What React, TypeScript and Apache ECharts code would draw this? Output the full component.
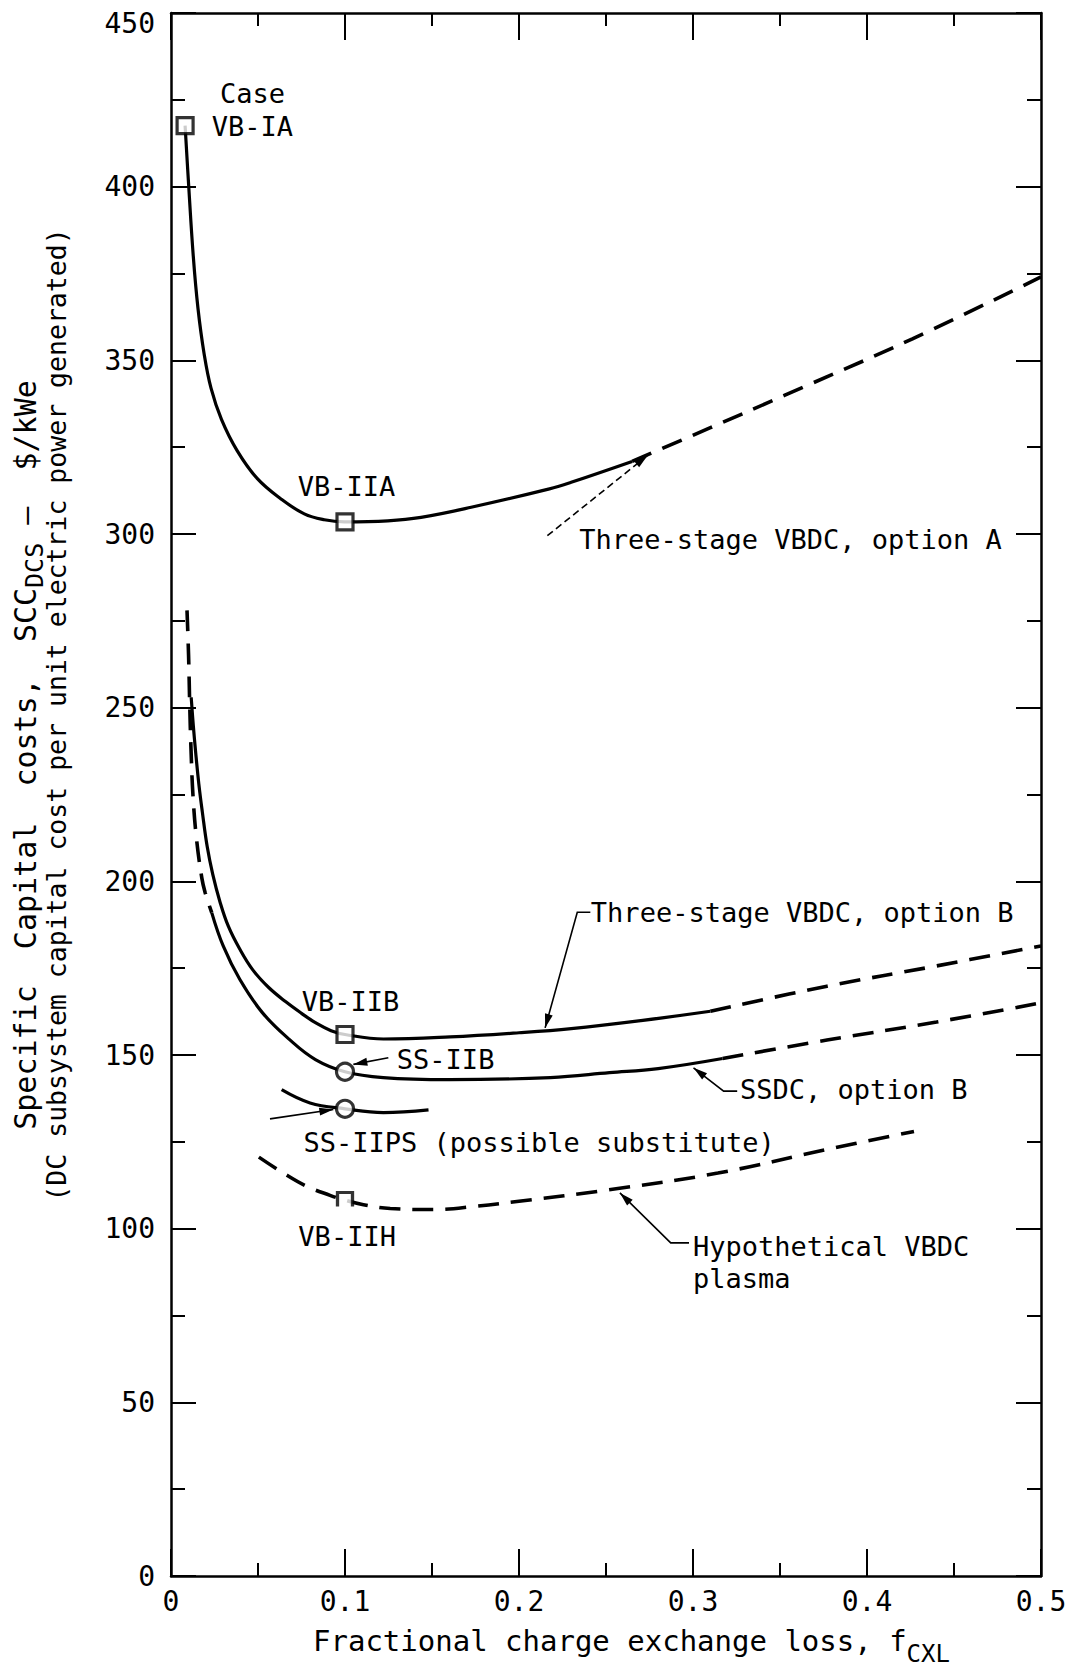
import { useEffect, useRef } from "react";
import * as echarts from "echarts";

type Pt = [number, number];

const FONT = '"DejaVu Sans Mono", "Liberation Mono", monospace';
const INK = "#000";

// x: fractional charge exchange loss f_CXL ; y: specific capital cost, $/kWe

// Three-stage VBDC, option A
const vbdcASolid: Pt[] = [
  [0.0081, 417.6], [0.0102, 400.0], [0.0128, 380.0], [0.0155, 365.0], [0.019, 352.0],
  [0.023, 342.0], [0.029, 333.0], [0.038, 324.0], [0.0495, 316.0], [0.0632, 310.1],
  [0.0766, 305.8], [0.0881, 304.1], [0.0996, 303.5], [0.1246, 303.8], [0.1437, 304.8],
  [0.1725, 307.7], [0.2175, 313.0], [0.23, 314.9], [0.265, 320.9],
];
const vbdcADashed: Pt[] = [
  [0.265, 320.9], [0.31, 330.6], [0.3525, 339.9], [0.4261, 356.2], [0.5, 374.0],
];

// Three-stage VBDC, option B
const vbdcBSolid: Pt[] = [
  [0.0116, 253.0], [0.0128, 245.0], [0.0142, 237.0], [0.016, 228.0], [0.018, 220.0],
  [0.0208, 210.0], [0.024, 202.0], [0.0282, 194.0], [0.033, 187.0], [0.0395, 180.5],
  [0.047, 174.5], [0.056, 169.5], [0.066, 165.3], [0.075, 162.0], [0.084, 159.0],
  [0.092, 157.0], [0.1, 155.9], [0.1221, 154.6], [0.1604, 155.2], [0.2, 156.4],
  [0.23, 157.6], [0.27, 159.9], [0.31, 162.6],
];
const vbdcBDashed: Pt[] = [
  [0.31, 162.6], [0.377, 169.8], [0.4395, 175.6], [0.5, 181.4],
];

// SSDC, option B
const ssdcDashedHigh: Pt[] = [
  [0.0092, 278.0], [0.0101, 265.0], [0.0108, 250.0], [0.0115, 238.0], [0.0126, 225.0],
  [0.0146, 212.5], [0.0177, 201.0], [0.0196, 196.8], [0.0234, 191.0],
];
const ssdcSolid: Pt[] = [
  [0.0234, 191.0], [0.03, 181.4], [0.0395, 171.8], [0.0525, 162.2], [0.068, 154.5],
  [0.083, 148.7], [0.1, 145.2], [0.122, 143.5], [0.16, 142.9], [0.218, 143.5],
  [0.252, 144.9], [0.28, 146.1], [0.317, 149.0],
];
const ssdcDashedLow: Pt[] = [
  [0.317, 149.0], [0.377, 154.3], [0.44, 159.5], [0.5, 165.0],
];

// SS-IIPS (possible substitute)
const ssIIPS: Pt[] = [
  [0.0636, 140.0], [0.0799, 136.2], [0.1, 134.5], [0.1221, 133.4], [0.148, 134.2],
];

// Hypothetical VBDC plasma
const hypothetical: Pt[] = [
  [0.0505, 120.6], [0.0646, 116.0], [0.078, 112.2], [0.0914, 109.6], [0.1, 108.2],
  [0.1106, 106.9], [0.126, 105.8], [0.151, 105.5], [0.176, 106.5], [0.2, 107.9],
  [0.2518, 111.2], [0.3143, 116.0], [0.377, 122.8], [0.427, 128.0],
];

// design cases
const squareCases: Pt[] = [[0.0081, 417.6], [0.1, 303.5], [0.1, 155.9]];
const openSquareCases: Pt[] = [[0.1, 108.4]];
const circleCases: Pt[] = [[0.1, 145.2], [0.1, 134.5]];

// case and curve labels, anchored at the left end of the text in data space
const labelTexts = [
  "Case", "VB-IA", "VB-IIA", "Three-stage VBDC, option A", "Three-stage VBDC, option B",
  "VB-IIB", "SS-IIB", "SS-IIPS (possible substitute)", "VB-IIH", "SSDC, option B",
  "Hypothetical VBDC", "plasma",
];
const labelAnchors: Pt[] = [
  [0.0282, 426.8], [0.0234, 417.2], [0.0728, 313.7], [0.2346, 298.5], [0.2413, 191.1],
  [0.0752, 165.5], [0.1298, 148.7], [0.0761, 124.7], [0.0732, 97.8], [0.327, 140.0],
  [0.3, 94.8], [0.3, 85.6],
];

// leader lines ending with an arrowhead at the last point
const leaders: { pts: Pt[]; dashed?: boolean }[] = [
  { pts: [[0.2163, 299.5], [0.2739, 322.6]], dashed: true },
  { pts: [[0.241, 191.1], [0.2335, 191.1], [0.215, 157.8]] },
  { pts: [[0.1249, 149.2], [0.1048, 147.3]] },
  { pts: [[0.0569, 131.6], [0.0933, 134.3]] },
  { pts: [[0.3254, 139.6], [0.3176, 139.6], [0.3003, 146.3]] },
  { pts: [[0.2977, 95.9], [0.2872, 95.9], [0.258, 110.3]] },
];

function arrowHead(tip: number[], from: number[], len = 14, half = 4) {
  const dx = tip[0] - from[0];
  const dy = tip[1] - from[1];
  const d = Math.hypot(dx, dy) || 1;
  const ux = dx / d;
  const uy = dy / d;
  const bx = tip[0] - ux * len;
  const by = tip[1] - uy * len;
  return [
    [tip[0], tip[1]],
    [bx - uy * half, by + ux * half],
    [bx + uy * half, by - ux * half],
  ];
}

export default function App() {
  const ref = useRef<HTMLDivElement>(null);

  useEffect(() => {
    const el = ref.current;
    if (!el) return;
    const chart = echarts.init(el, null, { renderer: "svg" });

    const solid = (name: string, data: Pt[]) => ({
      name, type: "line", data, showSymbol: false, smooth: 0.4, silent: true, z: 3,
      lineStyle: { color: INK, width: 3.2 },
    });
    const dashed = (name: string, data: Pt[]) => ({
      name, type: "line", data, showSymbol: false, smooth: 0.4, silent: true, z: 3,
      lineStyle: { color: INK, width: 3.6, type: [21, 12] },
    });

    const tickStyle = { color: INK, width: 2 };
    const xAxisBase = {
      type: "value", min: 0, max: 0.5, interval: 0.1,
      axisLine: { show: true, onZero: false, lineStyle: { color: INK, width: 2.5 } },
      axisTick: { show: true, inside: true, length: 27, lineStyle: tickStyle },
      minorTick: { show: true, splitNumber: 2, length: 13, lineStyle: tickStyle },
      splitLine: { show: false }, minorSplitLine: { show: false },
    };
    const yAxisBase = {
      type: "value", min: 0, max: 450, interval: 50,
      axisLine: { show: true, onZero: false, lineStyle: { color: INK, width: 2.5 } },
      axisTick: { show: true, inside: true, length: 25, lineStyle: tickStyle },
      minorTick: { show: true, splitNumber: 2, length: 14, lineStyle: tickStyle },
      splitLine: { show: false }, minorSplitLine: { show: false },
    };
    const labelStyle = { color: INK, fontFamily: FONT, fontSize: 28 };
    const markerStyle = { color: "#fff", borderColor: INK, borderWidth: 3.2 };

    chart.setOption({
      animation: false,
      backgroundColor: "#fff",
      grid: { left: 171, right: 28, top: 13, bottom: 95, outerBoundsMode: "none" },
      xAxis: [
        { ...xAxisBase, position: "bottom", axisLabel: { ...labelStyle, margin: 11 } },
        { ...xAxisBase, position: "top", axisLabel: { show: false } },
      ],
      yAxis: [
        {
          ...yAxisBase, position: "left",
          axisLabel: {
            ...labelStyle, margin: 16,
            // the top label sits a little below its tick so it stays on the page
            formatter: (v: number) => (v === 450 ? "{t|450}" : String(v)),
            rich: { t: { ...labelStyle, padding: [20, 0, 0, 0] } },
          },
        },
        { ...yAxisBase, position: "right", axisLabel: { show: false } },
      ],
      series: [
        solid("VBDC A", vbdcASolid),
        dashed("VBDC A ext", vbdcADashed),
        solid("VBDC B", vbdcBSolid),
        dashed("VBDC B ext", vbdcBDashed),
        dashed("SSDC B upper", ssdcDashedHigh),
        solid("SSDC B", ssdcSolid),
        dashed("SSDC B ext", ssdcDashedLow),
        solid("SS-IIPS", ssIIPS),
        dashed("Hypothetical", hypothetical),
        {
          type: "scatter", data: squareCases, symbol: "rect", symbolSize: 16, silent: true, z: 5,
          itemStyle: markerStyle,
        },
        {
          type: "scatter", data: openSquareCases, symbol: "path://M0,14L0,0L14,0L14,14",
          symbolSize: [15, 14], silent: true, z: 5,
          itemStyle: markerStyle,
        },
        {
          type: "scatter", data: circleCases, symbol: "circle", symbolSize: 17, silent: true, z: 5,
          itemStyle: markerStyle,
        },
      ],
    });

    const toPx = (p: Pt) => chart.convertToPixel({ gridIndex: 0 }, p) as number[];

    const graphic: any[] = [];
    labelTexts.forEach((t, i) => {
      const [x, y] = toPx(labelAnchors[i]);
      graphic.push({
        type: "text", x, y, silent: true, z: 10,
        style: { text: t, fill: INK, fontFamily: FONT, fontSize: 27, align: "left", verticalAlign: "middle" },
      });
    });
    leaders.forEach((l) => {
      const pts = l.pts.map(toPx);
      graphic.push({
        type: "polyline", silent: true, z: 10,
        shape: { points: pts },
        style: { stroke: INK, lineWidth: 1.6, fill: null, lineDash: l.dashed ? [7, 4] : null },
      });
      graphic.push({
        type: "polygon", silent: true, z: 10,
        shape: { points: arrowHead(pts[pts.length - 1], pts[pts.length - 2]) },
        style: { fill: INK, stroke: null },
      });
    });

    // axis titles
    graphic.push({
      type: "text", x: 313, y: 1642, silent: true,
      style: {
        text: "{a|Fractional charge exchange loss, f}{b|CXL}",
        align: "left", verticalAlign: "middle",
        rich: {
          a: { fontFamily: FONT, fontSize: 29, lineHeight: 32, verticalAlign: "top", fill: INK },
          b: { fontFamily: FONT, fontSize: 24, lineHeight: 26, verticalAlign: "top", padding: [16, 0, 0, 0], fill: INK },
        },
      },
    });
    graphic.push({
      type: "text", x: 26, y: 755, rotation: Math.PI / 2, silent: true,
      style: {
        text: "{a|Specific  Capital  costs,  SCC}{b|DCS}{a| –  $/kWe}",
        align: "center", verticalAlign: "middle",
        rich: {
          a: { fontFamily: FONT, fontSize: 30, lineHeight: 32, verticalAlign: "top", fill: INK },
          b: { fontFamily: FONT, fontSize: 25, lineHeight: 26, verticalAlign: "top", padding: [12, 0, 0, 0], fill: INK },
        },
      },
    });
    graphic.push({
      type: "text", x: 56, y: 715, rotation: Math.PI / 2, silent: true,
      style: {
        text: "(DC subsystem capital cost per unit electric power generated)",
        fill: INK, fontFamily: FONT, fontSize: 26.5, align: "center", verticalAlign: "middle",
      },
    });

    chart.setOption({ graphic });

    return () => chart.dispose();
  }, []);

  return (
    <div
      ref={ref}
      style={{ position: "absolute", left: 0, top: 0, width: 1069, height: 1671, background: "#fff" }}
    />
  );
}
